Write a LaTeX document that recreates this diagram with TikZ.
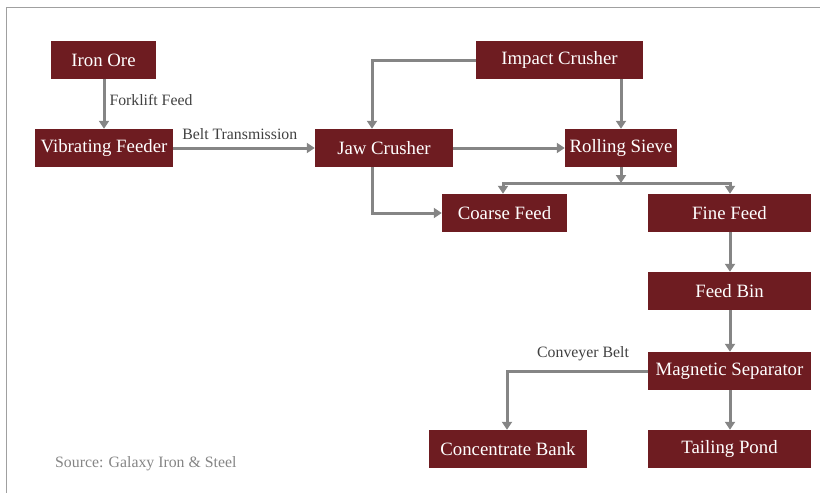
\documentclass[tikz,border=0pt]{standalone}
\usepackage{fontspec}
\setmainfont{Liberation Serif}
\usetikzlibrary{arrows.meta}
\definecolor{boxred}{HTML}{6E1C21}
\definecolor{flowgray}{HTML}{858585}
\definecolor{labelgray}{HTML}{404040}
\definecolor{framegray}{HTML}{A0A0A0}
\tikzset{
  stage/.style={fill=boxred, text=white, font=\fontsize{18.8}{21}\selectfont, inner sep=0pt},
  flow/.style={draw=flowgray, line width=3pt, -{Triangle[width=10pt,length=8pt]}},
  note/.style={text=labelgray, font=\fontsize{15.8}{18}\selectfont, inner sep=0pt},
}
\newcommand{\stagebox}[6]{% name, x1, y1, x2, y2, text
  \path[stage] (#2,#3) rectangle (#4,#5);
  \node[stage, fill=none] (#1) at ({(#2+#4)/2},{(#3+#5)/2}) [minimum width={#4-#2}, minimum height={#5-#3}] {#6};
}
\begin{document}
\begin{tikzpicture}[x=1pt,y=-1pt]
  \useasboundingbox (0,0) rectangle (820,493);
  % frame
  \draw[framegray, line width=1.8pt] (6.5,493) -- (6.5,7.5) -- (820,7.5);

  % process stages
  \stagebox{ore}{51}{41}{156}{79}{Iron Ore}
  \stagebox{vib}{35}{129}{173}{167}{Vibrating Feeder}
  \stagebox{imp}{476}{41}{643}{79}{Impact Crusher}
  \stagebox{jaw}{315}{129}{453}{167}{Jaw Crusher}
  \stagebox{sieve}{565}{129}{677}{167}{Rolling Sieve}
  \stagebox{coarse}{442}{194}{567}{232}{Coarse Feed}
  \stagebox{fine}{648}{194}{811}{232}{Fine Feed}
  \stagebox{bin}{648}{272}{811}{310}{Feed Bin}
  \stagebox{mag}{648}{352}{811}{390}{Magnetic Separator}
  \stagebox{conc}{429}{430}{587}{468}{Concentrate Bank}
  \stagebox{tail}{648}{430}{811}{468}{Tailing Pond}

  % junction below the sieve
  \coordinate (split) at (621,183);

  % connectors
  \draw[flow] (ore.south -| 104,0) -- (vib.north -| 104,0)
    node[note, anchor=west, pos=0.42, xshift=4pt] {Forklift Feed};
  \draw[flow] (vib.east) -- (jaw.west)
    node[note, anchor=south, pos=0.47, yshift=7pt] {Belt Transmission};
  \draw[flow] (imp.west) -| (jaw.north -| 372,0);
  \draw[flow] (imp.south -| sieve.north) -- (sieve.north);
  \draw[flow] (jaw.east) -- (sieve.west);
  \draw[flow] (sieve.south) -- (split);
  \draw[flow] (split) -| (coarse.north -| 503,0);
  \draw[flow] (split) -| (fine.north -| 730,0);
  \draw[flow] (jaw.south -| 372,0) |- (coarse.west);
  \draw[flow] (fine.south -| 730,0) -- (bin.north -| 730,0);
  \draw[flow] (bin.south -| 730,0) -- (mag.north -| 730,0);
  \draw[flow] (mag.west) -| (conc.north -| 507,0)
    node[note, anchor=south, pos=0.23, yshift=9pt] {Conveyer Belt};
  \draw[flow] (mag.south -| 730,0) -- (tail.north -| 730,0);

  % source line
  \node[text=flowgray, font=\fontsize{15.8}{18}\selectfont, anchor=west, inner sep=0pt] (src) at (55,464) {Source: Galaxy Iron \& Steel};
\end{tikzpicture}
\end{document}
